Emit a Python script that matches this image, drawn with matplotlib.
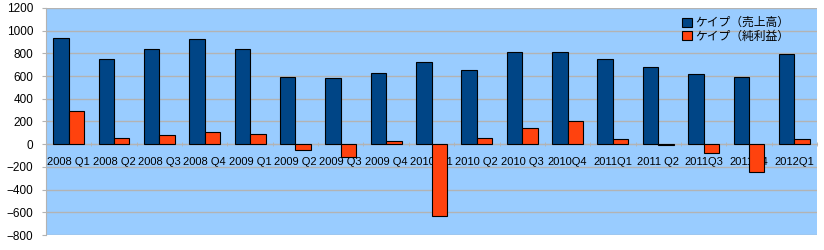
import numpy as np
import matplotlib
matplotlib.use("Agg")
from matplotlib import pyplot as plt
from matplotlib.ticker import FixedLocator

plt.rcParams['font.family'] = ['Liberation Sans', 'Noto Sans CJK JP', 'DejaVu Sans']

quarters = ["2008 Q1", "2008 Q2", "2008 Q3", "2008 Q4", "2009 Q1", "2009 Q2",
            "2009 Q3", "2009 Q4", "2010 Q1", "2010 Q2", "2010 Q3", "2010Q4",
            "2011Q1", "2011 Q2", "2011Q3", "2011Q4", "2012Q1"]
sales = [940, 755, 842, 930, 842, 588, 579, 623, 728, 658, 816, 816,
         754, 684, 617, 588, 798]
profit = [290, 53, 79, 105, 88, -53, -114, 26, -635, 53, 140, 202,
          44, -3, -79, -249, 44]

label_sales = "ケイプ（売上高）"
label_profit = "ケイプ（純利益）"

x = np.arange(len(quarters))
w = 0.34

fig = plt.figure(figsize=(8.24, 2.5), dpi=100)
ax = fig.add_axes([46 / 824, 15 / 250, 771 / 824, 227 / 250])
ax.set_facecolor("#99ccff")

ax.bar(x - w / 2, sales, width=w, color="#004586", edgecolor="black",
       linewidth=0.8, label=label_sales, zorder=3)
ax.bar(x + w / 2, profit, width=w, color="#ff420e", edgecolor="black",
       linewidth=0.8, label=label_profit, zorder=3)

ax.set_xlim(-0.5, len(quarters) - 0.5)
ax.set_ylim(-800, 1200)
ax.set_yticks(np.arange(-800, 1201, 200))
ax.yaxis.grid(True, color="#b3b3b3", linewidth=1, zorder=0)

ax.spines["bottom"].set_position(("data", 0))
for s in ["top", "right"]:
    ax.spines[s].set_visible(False)
ax.spines["left"].set_color("#b3b3b3")
ax.spines["bottom"].set_color("#b3b3b3")

ax.set_xticks(x)
ax.set_xticklabels(quarters, fontsize=8)
ax.tick_params(axis="x", length=0, pad=9)
ax.xaxis.set_minor_locator(FixedLocator(np.arange(-0.5, len(quarters), 1)))
ax.tick_params(axis="x", which="minor", length=3, color="#b3b3b3", direction="inout")
ax.tick_params(axis="y", labelsize=8.5, length=3, color="#b3b3b3", pad=6)

leg = ax.legend(loc="upper right", bbox_to_anchor=(0.975, 1.0), frameon=False,
                fontsize=8.5, handlelength=0.8, handleheight=0.8,
                handletextpad=0.3, labelspacing=0.05, borderpad=0.2)
for t in leg.get_texts():
    t.set_family(['Noto Sans CJK JP', 'DejaVu Sans'])

fig.savefig("out.png", dpi=100)
